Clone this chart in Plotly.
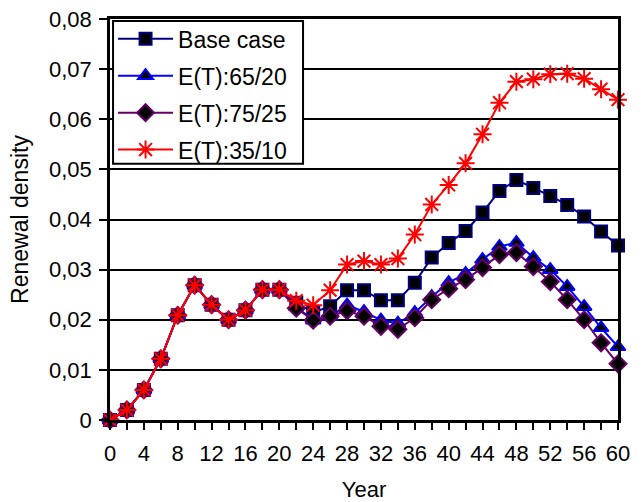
import plotly.graph_objects as go

years = list(range(0, 61, 2))

base_case = [0, 0.002, 0.006, 0.0122, 0.0209, 0.0269, 0.023, 0.020, 0.0219, 0.026, 0.026,
             0.0234, 0.0214, 0.0227, 0.0259, 0.0259, 0.0239, 0.0239, 0.0274, 0.0324, 0.0353,
             0.0377, 0.0414, 0.0457, 0.0479, 0.0463, 0.0447, 0.0429, 0.0406, 0.0376, 0.0348]
et_65_20 = [0, 0.002, 0.006, 0.0122, 0.0209, 0.0269, 0.023, 0.020, 0.0219, 0.026, 0.026,
            0.0226, 0.0199, 0.0206, 0.0229, 0.0216, 0.0199, 0.0193, 0.0214, 0.0246, 0.0274,
            0.0292, 0.032, 0.0346, 0.0354, 0.0324, 0.030, 0.0266, 0.0226, 0.0184, 0.0146]
et_75_25 = [0, 0.002, 0.006, 0.0122, 0.0209, 0.0269, 0.023, 0.020, 0.0219, 0.026, 0.026,
            0.0223, 0.0199, 0.0207, 0.0218, 0.0207, 0.0187, 0.0181, 0.0204, 0.024, 0.0262,
            0.028, 0.0304, 0.033, 0.0334, 0.0306, 0.0276, 0.024, 0.020, 0.0154, 0.0112]
et_35_10 = [0, 0.002, 0.006, 0.0122, 0.0209, 0.0269, 0.023, 0.020, 0.0219, 0.026, 0.026,
            0.0238, 0.0229, 0.0259, 0.031, 0.0317, 0.031, 0.0322, 0.037, 0.043, 0.0469,
            0.0512, 0.057, 0.0633, 0.0675, 0.068, 0.069, 0.0691, 0.0681, 0.066, 0.0639]

y_tickvals = [0, 0.01, 0.02, 0.03, 0.04, 0.05, 0.06, 0.07, 0.08]
y_ticktext = ["0", "0,01", "0,02", "0,03", "0,04", "0,05", "0,06", "0,07", "0,08"]
x_tickvals = list(range(0, 61, 4))

FONT = "Liberation Sans, Arial, sans-serif"

fig = go.Figure()
series = [
    ("Base case", base_case, "#000080", "square", 12),
    ("E(T):65/20", et_65_20, "#0000FF", "triangle-up", 13),
    ("E(T):75/25", et_75_25, "#660066", "diamond", 13),
]
for name, vals, col, sym, sz in series:
    fig.add_trace(go.Scatter(
        x=years, y=vals, name=name, mode="lines+markers", legendgroup=name,
        line=dict(color=col, width=2),
        marker=dict(symbol=sym, size=sz, color="black", line=dict(color=col, width=2)),
        cliponaxis=False,
    ))
fig.add_trace(go.Scatter(
    x=years, y=et_35_10, name="E(T):35/10", mode="lines+markers", legendgroup="E(T):35/10",
    line=dict(color="#FF0000", width=2),
    marker=dict(symbol="asterisk-open", size=15, color="#FF0000", line=dict(color="#FF0000", width=2)),
    cliponaxis=False,
))

# legend frame (white box with black border behind the legend entries)
fig.add_shape(type="rect", xref="paper", yref="paper",
              x0=0.006, x1=0.38, y0=0.639, y1=0.995,
              fillcolor="white", line=dict(color="black", width=2), layer="above")

fig.update_layout(
    width=643, height=502,
    margin=dict(l=110, r=25, t=19, b=82),
    paper_bgcolor="white", plot_bgcolor="white",
    font=dict(family=FONT, size=22, color="black"),
    showlegend=True,
    legend=dict(
        x=0.006, y=1.004, xanchor="left", yanchor="top",
        bgcolor="rgba(0,0,0,0)", borderwidth=0,
        font=dict(family=FONT, size=23, color="black"),
        itemwidth=55, traceorder="grouped", tracegroupgap=4,
    ),
    xaxis=dict(
        range=[0, 60], tickvals=x_tickvals, ticks="outside", ticklen=7, tickwidth=2,
        tickcolor="black", showline=True, linecolor="black", linewidth=2.5, mirror=True,
        showgrid=False, zeroline=False, automargin=False,
        minor=dict(dtick=2, ticks="outside", ticklen=7, tickwidth=2, tickcolor="black"),
        title=dict(text="Year", font=dict(size=22), standoff=20),
        tickfont=dict(size=22), ticklabelstandoff=5,
    ),
    yaxis=dict(
        range=[0, 0.08], tickvals=y_tickvals, ticktext=y_ticktext, ticks="outside",
        ticklen=8, tickwidth=2, tickcolor="black", showline=True, linecolor="black",
        linewidth=2.5, mirror=True, showgrid=True, gridcolor="black", gridwidth=2,
        zeroline=False, automargin=False,
        title=dict(text="Renewal density", font=dict(size=23), standoff=14),
        tickfont=dict(size=22), ticklabelstandoff=3,
    ),
)

fig.write_html("out.html")
